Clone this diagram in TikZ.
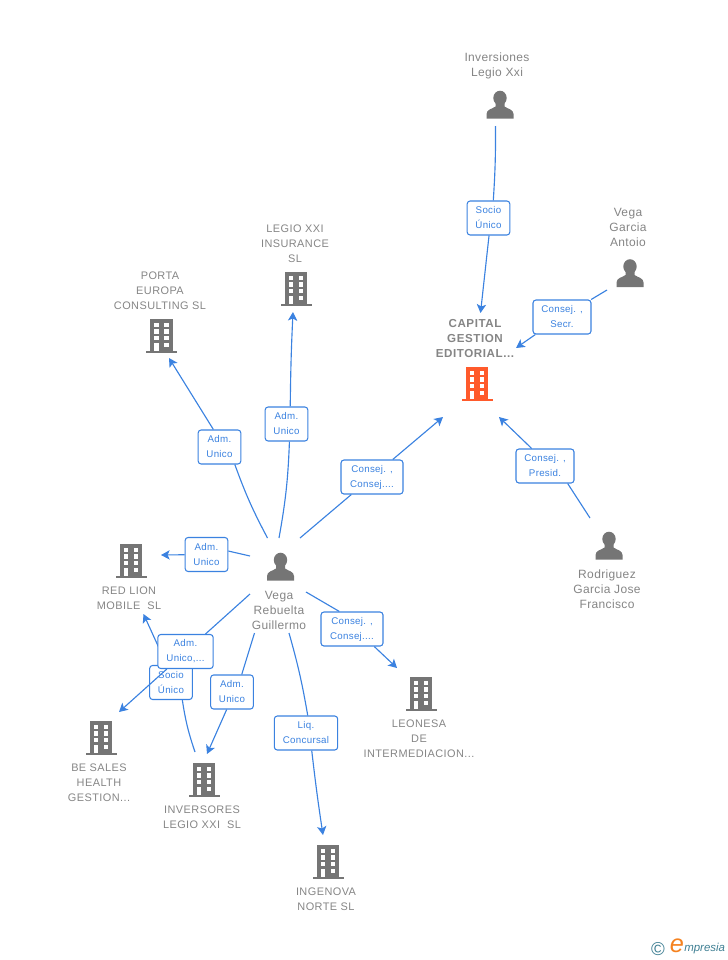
\documentclass[tikz,border=0pt]{standalone}
\usepackage{fontspec}
\setmainfont{Liberation Sans}
\usetikzlibrary{arrows.meta}
\definecolor{linkblue}{HTML}{3B82E0}
\definecolor{iconGrey}{HTML}{757575}
\definecolor{labelGrey}{HTML}{858585}
\definecolor{mainOrange}{HTML}{FF5A2B}
\definecolor{logoTeal}{HTML}{3F7F93}
\definecolor{logoOrange}{HTML}{F58220}
\newfontfamily\personfont[LetterSpace=3]{Liberation Sans}
\newfontfamily\companyfont[LetterSpace=4]{Liberation Sans}
\newfontfamily\mainfont[LetterSpace=5]{Liberation Sans Bold}
\newfontfamily\rolefont[LetterSpace=3]{Liberation Sans}
\begin{document}
\begin{tikzpicture}[x=0.75pt,y=-0.75pt]
	\tikzstyle{entity}=[inner sep=0pt,align=center,text=labelGrey,font=\companyfont\fontsize{8.2}{11.25}\selectfont]
	\tikzstyle{personname}=[entity,font=\personfont\fontsize{9}{11.25}\selectfont]
	\tikzstyle{mainentity}=[entity,font=\mainfont\fontsize{8.7}{11.25}\selectfont]
	\tikzstyle{role}=[draw=linkblue,line width=0.8pt,rounded corners=2.2pt,fill=white,inner sep=0pt,align=center,minimum height=25.5pt,text=linkblue,font=\rolefont\fontsize{7.3}{11.25}\selectfont]
	\tikzstyle{edge}=[draw=linkblue,line width=0.85pt]
	\tikzstyle{arrow}=[edge,-{Stealth[length=6.5pt,width=7pt,inset=1.6pt]}]
	\tikzset{
		pics/person/.style={code={
			\fill[iconGrey] (0,-7) ellipse [x radius=6.7,y radius=7.3];
			\fill[iconGrey] (-13.5,13.5) -- (-13.5,9) .. controls (-13.5,4.5) and (-8,4) .. (-4.5,1.5) -- (-4.5,-3) -- (4.5,-3) -- (4.5,1.5) .. controls (8,4) and (13.5,4.5) .. (13.5,9) -- (13.5,13.5) -- cycle;
		}},
		pics/building/.style={code={
			\fill[#1] (-11.3,-17) rectangle (11.3,14.5);
			\fill[#1] (-15.5,14.5) rectangle (15.5,16.5);
			\foreach \r in {-13.2,-6.8,-0.2} {
				\fill[white] (-7.2,\r) rectangle (-2.6,\r+4.4);
				\fill[white] (2.8,\r) rectangle (7.4,\r+4.4);
			}
			\fill[white] (-7.2,6.5) rectangle (-2.6,14.5);
			\fill[white] (2.8,6.5) rectangle (7.4,10.9);
		}}
	}
	\useasboundingbox (0,0) rectangle (728,960);

	% people
	\node [personname] (inversiones) at (497,65.5) {Inversiones\\Legio Xxi};
	\pic at (500,105) {person};
	\node [personname] (antoio) at (628,227) {Vega\\Garcia\\Antoio};
	\pic at (630,273.5) {person};
	\node [personname] (rodriguez) at (607,589) {Rodriguez\\Garcia Jose\\Francisco};
	\pic at (609,546) {person};
	\node [personname] (guillermo) at (279,610) {Vega\\Rebuelta\\Guillermo};
	\pic at (280.5,567) {person};

	% companies
	\node [mainentity] (capital) at (475,339) {CAPITAL\\GESTION\\EDITORIAL...};
	\pic at (477,384) {building=mainOrange};
	\node [entity] (legio) at (295,244) {LEGIO XXI\\INSURANCE\\SL};
	\pic at (296,289) {building=iconGrey};
	\node [entity] (porta) at (160,291) {PORTA\\EUROPA\\CONSULTING SL};
	\pic at (161.5,336) {building=iconGrey};
	\node [entity] (redlion) at (129,598.5) {RED LION\\MOBILE\ \ SL};
	\pic at (131,561) {building=iconGrey};
	\node [entity] (leonesa) at (419,739) {LEONESA\\DE\\INTERMEDIACION...};
	\pic at (421,694) {building=iconGrey};
	\node [entity] (besales) at (99,783) {BE SALES\\HEALTH\\GESTION...};
	\pic at (101,738) {building=iconGrey};
	\node [entity] (inversores) at (202,817.5) {INVERSORES\\LEGIO XXI\ \ SL};
	\pic at (204,780) {building=iconGrey};
	\node [entity] (ingenova) at (326,899.5) {INGENOVA\\NORTE SL};
	\pic at (328,862) {building=iconGrey};

	% free ends of the links
	\coordinate (c1) at (495.5,126);
	\coordinate (c2) at (480.5,313);
	\coordinate (c3) at (607,290);
	\coordinate (c4) at (516,348);
	\coordinate (c5) at (590,518);
	\coordinate (c6) at (499,417);
	\coordinate (c7) at (300,538);
	\coordinate (c8) at (443,417);
	\coordinate (c9) at (279,538);
	\coordinate (c10) at (293,312);
	\coordinate (c11) at (267.5,538);
	\coordinate (c12) at (169,358);
	\coordinate (c13) at (250,556);
	\coordinate (c14) at (161,555);
	\coordinate (c15) at (250,594);
	\coordinate (c16) at (119,712);
	\coordinate (c17) at (195,752);
	\coordinate (c18) at (143.5,614);
	\coordinate (c19) at (254.5,633);
	\coordinate (c20) at (207,754);
	\coordinate (c21) at (289,633);
	\coordinate (c22) at (323,835);
	\coordinate (c23) at (306,592);
	\coordinate (c24) at (397,668);

	% links with their roles
	\node [role,minimum width=32pt] (r1) at (488.5,218) {Socio\\Único};
	\path[edge] (c1) to [bend left=2] ([xshift=3.6pt]r1.north);
	\path[arrow] ([xshift=0.4pt]r1.south) to (c2);
	\node [role,minimum width=43.5pt] (r2) at (562,317) {Consej. ,\\Secr.};
	\path[edge] (c3) to (r2);
	\path[arrow] ([xshift=-20pt]r2.south) to (c4);
	\node [role,minimum width=43.5pt] (r3) at (545,466) {Consej. ,\\Presid.};
	\path[edge] (c5) to ([xshift=17pt]r3.south);
	\path[arrow] ([xshift=-10pt]r3.north) to (c6);
	\node [role,minimum width=46.5pt] (r4) at (372,477) {Consej. ,\\Consej....};
	\path[edge] (c7) to (r4);
	\path[arrow] (r4) to (c8);
	\node [role,minimum width=32pt] (r5) at (286.5,424) {Adm.\\Unico};
	\path[edge] (c9) to [bend right=4] ([xshift=2.2pt]r5.south);
	\path[arrow] ([xshift=2.8pt]r5.north) to [bend left=1] (c10);
	\node [role,minimum width=32pt] (r6) at (219.5,447) {Adm.\\Unico};
	\path[edge] (c11) to [bend left=4] ([xshift=11.5pt]r6.south);
	\path[arrow] ([xshift=-4.6pt]r6.north) to (c12);
	\node [role,minimum width=32pt] (r7) at (206.5,554.5) {Adm.\\Unico};
	\path[edge] (c13) to ([yshift=2.6pt]r7.east);
	\path[arrow] (r7) to (c14);
	\node [role,minimum width=32pt] (r8) at (171,682.5) {Socio\\Único};
	\path[edge] (c17) to [bend left=5] ([xshift=8.5pt]r8.south);
	\path[arrow] ([xshift=-3.2pt]r8.north) to (c18);
	\node [role,minimum width=41.5pt] (r9) at (185.5,651.5) {Adm.\\Unico,...};
	\path[edge] (c15) to ([xshift=15pt]r9.north);
	\path[arrow] ([xshift=-14pt]r9.south) to (c16);
	\node [role,minimum width=32pt] (r10) at (232,692) {Adm.\\Unico};
	\path[edge] (c19) to ([xshift=7.3pt]r10.north);
	\path[arrow] ([xshift=-4pt]r10.south) to (c20);
	\node [role,minimum width=47.5pt] (r11) at (306,733) {Liq.\\Concursal};
	\path[edge] (c21) to [bend left=3] ([xshift=1.3pt]r11.north);
	\path[arrow] ([xshift=4.3pt]r11.south) to [bend right=1] (c22);
	\node [role,minimum width=46.5pt] (r12) at (352,629) {Consej. ,\\Consej....};
	\path[edge] (c23) to ([xshift=-9.5pt]r12.north);
	\path[arrow] ([xshift=16.7pt]r12.south) to (c24);

	% logo
	\node [text=logoTeal,inner sep=0pt,font=\fontsize{14}{14}\selectfont] (copyr) at (658,949) {©};
	\node [text=logoOrange,inner sep=0pt,font=\fontsize{19}{19}\selectfont\itshape] (logoe) at (677,946) {e};
	\node [text=logoTeal,inner sep=0pt,anchor=west,font=\fontsize{8.6}{10}\selectfont\itshape] (logotext) at (684,949) {mpresia};
\end{tikzpicture}
\end{document}
